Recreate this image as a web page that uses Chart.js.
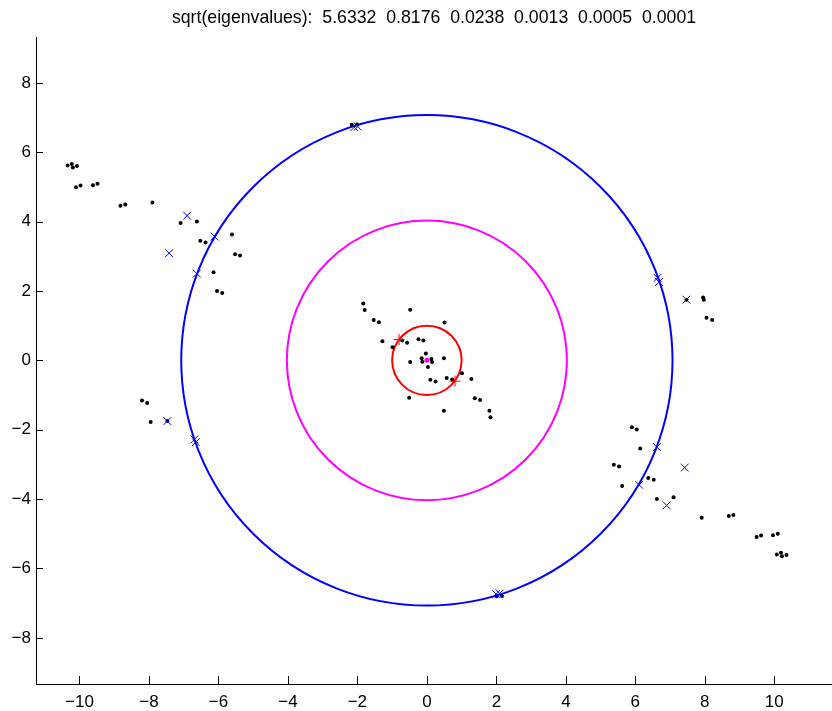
<!DOCTYPE html>
<html>
<head>
<meta charset="utf-8">
<title>sqrt(eigenvalues)</title>
<script src="https://cdn.jsdelivr.net/npm/chart.js@4.4.1/dist/chart.umd.min.js"></script>
<style>
  html, body { margin: 0; padding: 0; background: #fff; }
  canvas { display: block; }
</style>
</head>
<body>
<canvas id="chart" width="832" height="711"></canvas>
<script>
(function () {
    "use strict";

    var titleText = "sqrt(eigenvalues):  5.6332  0.8176  0.0238  0.0013  0.0005  0.0001";

    var xTicks = [-10, -8, -6, -4, -2, 0, 2, 4, 6, 8, 10];
    var yTicks = [-8, -6, -4, -2, 0, 2, 4, 6, 8];

    // outer clusters (black dots)
    var outerDots = [
        [-10.34, 5.62], [-10.22, 5.66], [-10.19, 5.56], [-10.07, 5.60], [-10.10, 4.99], [-9.97, 5.04],
        [-9.61, 5.05], [-9.48, 5.09], [-8.82, 4.46], [-8.68, 4.49], [-7.90, 4.55], [-7.09, 3.96],
        [-6.62, 4.00], [-6.52, 3.45], [-6.37, 3.40], [-5.61, 3.63], [-5.52, 3.06], [-5.38, 3.02],
        [-6.14, 2.54], [-6.04, 2.00], [-5.89, 1.94],
        [-8.20, -1.16], [-8.05, -1.23], [-7.95, -1.78], [-7.47, -1.75],
        [-2.01, 6.80], [-2.16, 6.79],
        [7.47, 1.75], [7.95, 1.81], [7.97, 1.75], [8.05, 1.23], [8.21, 1.16],
        [5.90, -1.93], [6.04, -1.99], [6.14, -2.54], [5.38, -3.01], [5.53, -3.06], [5.62, -3.62],
        [6.37, -3.39], [6.53, -3.44], [6.62, -4.00], [7.10, -3.95], [7.91, -4.54], [8.69, -4.49],
        [8.82, -4.46], [9.49, -5.09], [9.62, -5.05], [9.96, -5.04], [10.10, -5.00], [10.07, -5.60],
        [10.19, -5.55], [10.22, -5.65], [10.35, -5.61],
        [2.01, -6.80], [2.16, -6.79]
    ];

    // central cluster (black dots)
    var innerDots = [
        [-1.83, 1.64], [-1.79, 1.45], [-0.48, 1.46], [-1.53, 1.16], [-1.38, 1.10], [0.51, 1.09],
        [-1.28, 0.55], [-0.71, 0.57], [-0.57, 0.51], [-0.99, 0.38], [-0.24, 0.61], [-0.10, 0.57],
        [-0.03, 0.20], [-0.15, 0.06], [-0.13, -0.04], [0.13, 0.04], [0.15, -0.05], [0.03, -0.19],
        [-0.48, -0.05], [0.49, 0.06], [1.01, -0.37], [0.10, -0.56], [0.25, -0.61], [0.57, -0.51],
        [0.73, -0.55], [1.28, -0.54], [-0.51, -1.08], [1.38, -1.09], [1.53, -1.14], [0.49, -1.45],
        [1.80, -1.45], [1.83, -1.64]
    ];

    var blueCrosses = [
        [-6.90, 4.17], [-7.42, 3.09], [-6.11, 3.57], [-6.62, 2.50], [-7.47, -1.75],
        [-6.69, -2.28], [-6.65, -2.36], [-1.99, 6.74], [-2.09, 6.72],
        [6.64, 2.38], [6.68, 2.26], [7.47, 1.75], [6.62, -2.50], [7.42, -3.09],
        [6.11, -3.59], [6.90, -4.18], [1.99, -6.74], [2.09, -6.72]
    ];

    var redPlus = [[-0.80, 0.60], [0.81, -0.60]];
    var centre = [[0, 0]];

    var circleRadii = [7.07, 4.03, 1.0];
    var circleColors = ["#0000ff", "#ff00ff", "#ff0000"];

    function toPoints(arr) {
        return arr.map(function (p) { return {x: p[0], y: p[1]}; });
    }

    function minusSign(v) {
        return String(v).replace("-", "\u2212");
    }

    // circles drawn through the scales
    var circlesPlugin = {
        id: "circles",
        beforeDatasetsDraw: function (chart) {
            var ctx = chart.ctx, sx = chart.scales.x, sy = chart.scales.y;
            var area = chart.chartArea;
            var cx = sx.getPixelForValue(0), cy = sy.getPixelForValue(0);
            ctx.save();
            ctx.beginPath();
            ctx.rect(area.left, area.top, area.right - area.left, area.bottom - area.top);
            ctx.clip();
            ctx.lineWidth = 2;
            circleRadii.forEach(function (r, i) {
                var rx = sx.getPixelForValue(r) - cx;
                var ry = cy - sy.getPixelForValue(r);
                ctx.strokeStyle = circleColors[i];
                ctx.beginPath();
                ctx.ellipse(cx, cy, rx, ry, 0, 0, Math.PI * 2);
                ctx.stroke();
            });
            ctx.restore();
        }
    };

    // inward tick marks
    var innerTicks = {
        id: "innerTicks",
        afterDraw: function (chart) {
            var ctx = chart.ctx, sx = chart.scales.x, sy = chart.scales.y;
            var area = chart.chartArea;
            ctx.save();
            ctx.strokeStyle = "#000";
            ctx.lineWidth = 1;
            ctx.beginPath();
            sx.ticks.forEach(function (t) {
                var px = Math.round(sx.getPixelForValue(t.value)) + 0.5;
                ctx.moveTo(px, area.bottom);
                ctx.lineTo(px, area.bottom - 8);
            });
            sy.ticks.forEach(function (t) {
                var py = Math.round(sy.getPixelForValue(t.value)) + 0.5;
                ctx.moveTo(area.left, py);
                ctx.lineTo(area.left + 7, py);
            });
            ctx.stroke();
            ctx.restore();
        }
    };

    Chart.defaults.font.family = "'Liberation Sans', Arial, sans-serif";
    Chart.defaults.font.size = 17;
    Chart.defaults.color = "#000";

    var ctx = document.getElementById("chart").getContext("2d");
    var myChart = new Chart(ctx, {
        type: "scatter",
        data: {
            datasets: [{
                    label: "projections",
                    data: toPoints(blueCrosses),
                    pointStyle: "crossRot",
                    pointRadius: 5.5,
                    borderColor: "#0000ff",
                    borderWidth: 1
                },
                {
                    label: "axis points",
                    data: toPoints(redPlus),
                    pointStyle: "cross",
                    pointRadius: 5.5,
                    borderColor: "#ff0000",
                    borderWidth: 1
                },
                {
                    label: "centre",
                    data: toPoints(centre),
                    pointRadius: 2.5,
                    backgroundColor: "#ff00ff",
                    borderWidth: 0
                },
                {
                    label: "inner",
                    data: toPoints(innerDots),
                    pointRadius: 2,
                    backgroundColor: "#000",
                    borderWidth: 0
                },
                {
                    label: "outer",
                    data: toPoints(outerDots),
                    pointRadius: 2,
                    backgroundColor: "#000",
                    borderWidth: 0
                }
            ]
        },
        options: {
            responsive: false,
            animation: false,
            devicePixelRatio: 1,
            layout: { padding: 0, autoPadding: false },
            plugins: {
                legend: { display: false },
                tooltip: { enabled: false },
                title: {
                    display: true,
                    text: titleText,
                    fullSize: false,
                    font: { size: 17.7, weight: "normal" },
                    color: "#000",
                    padding: { top: 7, bottom: 9.5 }
                }
            },
            scales: {
                x: {
                    type: "linear",
                    min: -11.25,
                    max: 11.66,
                    grid: { display: false, drawTicks: false },
                    border: { display: true, color: "#000", width: 1 },
                    ticks: { padding: 8, maxRotation: 0, callback: minusSign },
                    afterBuildTicks: function (scale) {
                        scale.ticks = xTicks.map(function (v) { return {value: v}; });
                    },
                    afterFit: function (scale) {
                        scale.height = 27;
                        scale.paddingLeft = 0;
                        scale.paddingRight = 0;
                    }
                },
                y: {
                    type: "linear",
                    min: -9.33,
                    max: 9.30,
                    grid: { display: false, drawTicks: false },
                    border: { display: true, color: "#000", width: 1 },
                    ticks: { padding: 5, callback: minusSign },
                    afterBuildTicks: function (scale) {
                        scale.ticks = yTicks.map(function (v) { return {value: v}; });
                    },
                    afterFit: function (scale) {
                        scale.width = 36;
                        scale.paddingTop = 0;
                        scale.paddingBottom = 0;
                    }
                }
            }
        },
        plugins: [circlesPlugin, innerTicks]
    });
})();
</script>
</body>
</html>
